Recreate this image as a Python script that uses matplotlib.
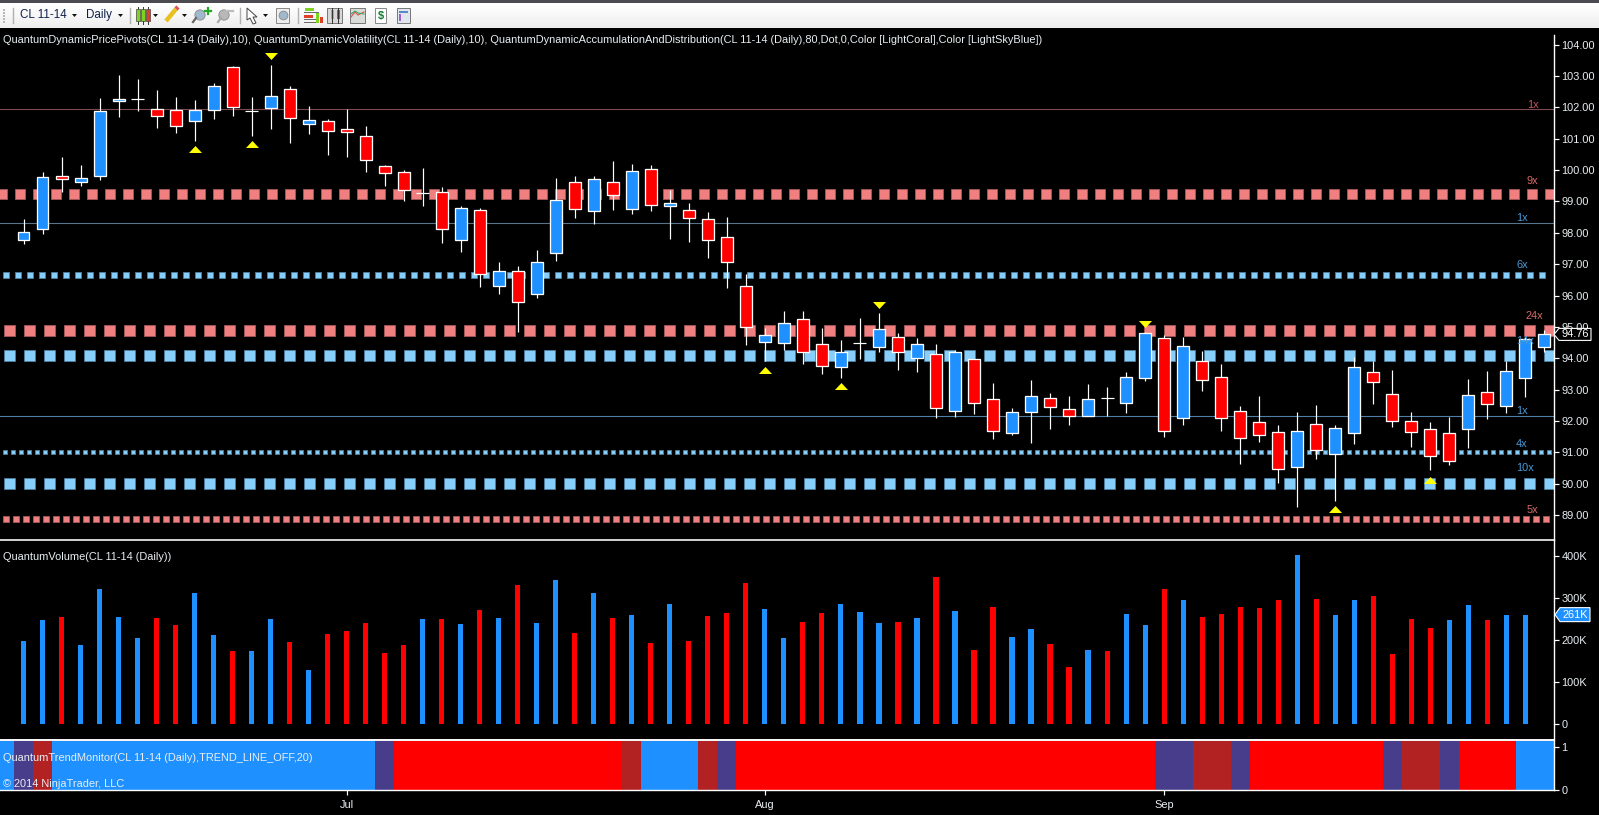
import numpy as np
import matplotlib
matplotlib.use('Agg')
import matplotlib.pyplot as plt
from matplotlib.patches import Polygon, Rectangle

plt.rcParams['font.family'] = ['Liberation Sans', 'DejaVu Sans']

# b = blue candle, r = red candle, d = doji
candle_kind = list('bbrbbbdrrbbrdbrbrrrrrdrbrbrbbrbrbrbrrrrbbrrbdbrbrbrrbbrrbdbbrbrrrrrbrbbrrrrrbrbbb')
candle_high = [98.44,99.94,100.42,100.16,102.30,103.03,102.91,102.56,102.33,102.24,102.77,103.32,102.33,103.35,102.68,102.05,101.62,101.95,101.41,100.16,
               100.00,100.07,99.46,98.86,98.79,97.07,96.94,97.45,99.75,99.81,99.81,100.29,100.20,100.16,99.37,98.95,98.66,98.51,96.69,94.97,
               95.51,95.51,94.97,94.58,95.28,95.44,94.81,94.65,94.45,94.26,93.98,93.21,92.41,93.31,92.89,92.80,93.18,93.08,93.56,94.85,
               94.73,94.68,94.23,93.82,92.48,92.80,91.87,92.29,92.51,91.87,94.04,93.91,93.62,92.29,91.97,92.13,93.34,93.59,93.91,94.68,94.90]
body_top = [98.02,99.77,99.80,99.74,101.88,102.27,102.26,101.94,101.91,101.91,102.67,103.28,101.89,102.35,102.58,101.59,101.56,101.30,101.08,100.12,
            99.93,99.27,99.29,98.78,98.72,96.78,96.78,97.07,99.04,99.61,99.71,99.61,99.96,100.03,98.94,98.72,98.43,97.86,96.29,94.73,
            95.11,95.24,94.44,94.19,94.49,94.92,94.67,94.44,94.13,94.19,93.97,92.69,92.27,92.79,92.72,92.37,92.69,92.73,93.39,94.79,
            94.64,94.38,93.90,93.39,92.31,91.96,91.64,91.67,91.89,91.76,93.71,93.55,92.85,91.99,91.73,91.60,92.82,92.91,93.58,94.60,94.76]
body_bottom = [97.78,98.13,99.70,99.63,99.82,102.19,102.23,101.71,101.42,101.55,101.93,102.02,101.87,101.99,101.67,101.48,101.23,101.20,100.33,99.92,
               99.38,99.25,98.13,97.78,96.68,96.30,95.80,96.06,97.34,98.77,98.68,99.22,98.77,98.90,98.87,98.48,97.78,97.08,95.01,94.53,
               94.50,94.21,93.76,93.73,94.47,94.37,94.21,94.02,92.42,92.33,92.58,91.69,91.63,92.30,92.46,92.17,92.17,92.71,92.58,93.38,
               91.69,92.10,93.30,92.10,91.47,91.56,90.48,90.54,91.08,90.96,91.63,93.25,92.01,91.66,90.89,90.73,91.75,92.55,92.49,93.38,94.37]
candle_low = [97.64,97.96,99.30,99.49,99.69,101.69,101.89,101.34,101.18,100.93,101.63,101.73,101.09,101.31,100.87,101.15,100.48,100.42,99.94,99.49,
              99.02,98.86,97.68,97.39,96.27,96.05,94.84,95.92,97.11,98.47,98.29,98.73,98.60,98.70,97.80,97.71,97.20,96.25,94.42,93.91,
              94.26,93.82,93.50,93.37,93.98,94.20,93.63,93.56,92.09,92.13,92.22,91.42,91.55,91.30,91.74,91.87,92.17,92.16,92.25,93.27,
              91.49,91.87,92.96,91.68,90.63,91.33,90.02,89.26,90.79,89.45,91.26,92.54,91.81,91.17,90.44,90.60,91.14,92.06,92.25,92.76,94.20]

# volume in thousands, one bar fewer than the candles
volume_k = [198,248,255,188,322,255,205,253,236,313,212,174,174,250,196,129,215,222,241,169,
            188,250,250,239,272,253,332,241,344,217,313,253,260,193,286,198,258,265,336,274,
            205,243,265,286,267,241,243,253,351,270,177,279,208,227,191,136,177,174,262,236,
            322,296,255,262,279,277,296,403,298,260,296,305,167,250,229,248,284,248,260,261]
volume_kind = list('bbrbbbbrrbbrbbrbrrrrrbrbrbrbbrbrbrbrrrrbbrrbbbrbrbrrbbrrbrbbrbrrrrrbrbbrrrrbbrbb')

# p = purple, f = firebrick, b = blue, r = red; first entry is the part before bar 0
trend_state = list('bpf' + 'b' * 17 + 'p' + 'r' * 12 + 'f' + 'bbb' + 'fp' + 'r' * 22 + 'pp' + 'ff' + 'p' +
                   'r' * 7 + 'p' + 'ff' + 'p' + 'rrr' + 'bb')

marker_up_bar = [9, 12, 39, 43, 69, 74]
marker_up_price = [100.66, 100.82, 93.64, 93.10, 89.18, 90.13]
marker_down_bar = [13, 45, 59]
marker_down_price = [103.63, 95.71, 95.09]

price_ticks = [89, 90, 91, 92, 93, 94, 95, 96, 97, 98, 99, 100, 101, 102, 103, 104]
volume_ticks = [0, 100, 200, 300, 400]
month_bars = [17, 39, 60]
month_labels = ['Jul', 'Aug', 'Sep']

line_levels = [101.94, 98.30, 92.15]
line_colors = ['#7d4a50', '#56748c', '#4f7ea6']
line_labels = ['1x', '1x', '1x']
line_label_col = ['#c8555f', '#4a9ad8', '#4a9ad8']

dot_levels = [99.23, 96.65, 94.89, 94.09, 91.00, 90.01, 88.86]
dot_colors = ['lightcoral', 'lightskyblue', 'lightcoral', 'lightskyblue', 'lightskyblue', 'lightskyblue', 'lightcoral']
dot_labels = ['9x', '6x', '24x', '14x', '4x', '10x', '5x']
dot_size_px = [10, 6.6, 11, 11, 4.8, 11, 5.2]
dot_pitch_px = [18, 12, 20, 20, 8, 20, 10]
dot_start_px = [2, 6.2, 8.6, 8.6, 5.4, 8.6, 6]
dot_text_x = [1532, 1522, 1534, 1525, 1522, 1525, 1532]
dot_text_y = [180.5, 265, 316, 340.7, 444, 468, 510]
line_text_x = [1533, 1522, 1522]
line_text_y = [105, 218, 411]

last_price = 94.76
last_volume = 261

W, H = 1599, 815
BLUE, RED = '#1e90ff', '#ff0000'
TXT = '#e8eef2'
PX = 72.0 / 100  # one pixel in points


def add_axes_px(left, top, right, bottom):
    return fig.add_axes([left / W, 1 - bottom / H, (right - left) / W, (bottom - top) / H])


def bar_of(px):
    return (px - 23.5) / 19.01


fig = plt.figure(figsize=(W / 100, H / 100), dpi=100, facecolor='black')
x_left, x_right = bar_of(0), bar_of(1553.5)

# ---- price panel
ax = add_axes_px(0, 28, 1553.5, 539.5)
ax.set_facecolor('black')
ax.set_xlim(x_left, x_right)
ax.set_ylim(88.22, 104.53)

for lev, col in zip(line_levels, line_colors):
    ax.axhline(lev, color=col, lw=1.1 * PX, zorder=1)
for lev, col, size, pitch, start in zip(dot_levels, dot_colors, dot_size_px, dot_pitch_px, dot_start_px):
    xs = bar_of(np.arange(start, 1552, pitch))
    edge = '#a85a5a' if col == 'lightcoral' else '#4f7f9f'
    ax.scatter(xs, [lev] * len(xs), s=(size * PX) ** 2, marker='s', c=col, edgecolors=edge,
               linewidths=0.8 * PX, zorder=2)

for i, kind in enumerate(candle_kind):
    ax.vlines(i, candle_low[i], candle_high[i], color='white', lw=1.2 * PX, zorder=3)
    if kind == 'd':
        ax.hlines(body_top[i], i - 0.34, i + 0.34, color='white', lw=1.2 * PX, zorder=3)
    else:
        ax.bar(i, body_top[i] - body_bottom[i], bottom=body_bottom[i], width=0.63,
               color=BLUE if kind == 'b' else RED, edgecolor='white', lw=1.3 * PX, zorder=4)

up_tri = [(-6.5, -3.5), (6.5, -3.5), (0, 3.5)]
down_tri = [(-6.5, 3.5), (6.5, 3.5), (0, -3.5)]
ax.scatter(marker_up_bar, marker_up_price, marker=up_tri, s=(13 * PX) ** 2, c='#ffff00', linewidths=0, zorder=5)
ax.scatter(marker_down_bar, marker_down_price, marker=down_tri, s=(13 * PX) ** 2, c='#ffff00', linewidths=0, zorder=5)

ax.yaxis.tick_right()
ax.set_yticks(price_ticks)
ax.set_yticklabels(['%.2f' % p for p in price_ticks])
ax.set_xticks([])

# ---- volume panel
vax = add_axes_px(0, 540, 1553.5, 740)
vax.set_facecolor('black')
vax.set_xlim(x_left, x_right)
vax.set_ylim(-38, 439)
vax.bar(range(len(volume_k)), volume_k, width=0.27,
        color=[BLUE if k == 'b' else RED for k in volume_kind], zorder=3)
vax.yaxis.tick_right()
vax.set_yticks(volume_ticks)
vax.set_yticklabels(['0' if v == 0 else '%dK' % v for v in volume_ticks])
vax.set_xticks([])

# ---- trend panel
tax = add_axes_px(0, 741, 1553.5, 789.5)
tax.set_facecolor('black')
tax.set_xlim(x_left, x_right)
tax.set_ylim(0, 1.14)
trend_colors = {'p': '#483d8b', 'f': '#b22222', 'b': BLUE, 'r': RED}
tax.bar(np.arange(len(trend_state)) - 1, [1.14] * len(trend_state), width=1.0,
        color=[trend_colors[s] for s in trend_state], linewidth=0)
tax.yaxis.tick_right()
tax.set_yticks([0, 1])
tax.set_xticks(month_bars)
tax.set_xticklabels(month_labels)

for a in (ax, vax, tax):
    for side in ('top', 'left'):
        a.spines[side].set_visible(False)
    for side in ('right', 'bottom'):
        a.spines[side].set_color('white')
        a.spines[side].set_linewidth(1.4 * PX)
    a.tick_params(axis='both', colors='white', labelcolor=TXT, labelsize=7.9, length=5 * PX,
                  width=1.2 * PX, pad=2)
tax.tick_params(axis='x', pad=4)
ax.spines['bottom'].set_visible(False)
vax.spines['bottom'].set_linewidth(1.6 * PX)
ax.spines['right'].set_bounds(88.22, 104.3)

# ---- overlay in pixel coords: captions, toolbar, price flags
ov = fig.add_axes([0, 0, 1, 1], facecolor='none')
ov.set_xlim(0, W)
ov.set_ylim(H, 0)
ov.axis('off')

ov.axhline(539.5, color='white', lw=1.6 * PX, xmax=1553.5 / W)
ov.axhline(740, color='white', lw=1.6 * PX, xmax=1553.5 / W)

caption = ('QuantumDynamicPricePivots(CL 11-14 (Daily),10), QuantumDynamicVolatility(CL 11-14 (Daily),10), '
           'QuantumDynamicAccumulationAndDistribution(CL 11-14 (Daily),80,Dot,0,Color [LightCoral],Color [LightSkyBlue])')
ov.text(3, 40, caption, color=TXT, fontsize=7.9, va='center')
ov.text(3, 557, 'QuantumVolume(CL 11-14 (Daily))', color=TXT, fontsize=7.9, va='center')
ov.text(3, 758, 'QuantumTrendMonitor(CL 11-14 (Daily),TREND_LINE_OFF,20)', color=TXT, fontsize=7.9, va='center')
ov.text(3, 784, '© 2014 NinjaTrader, LLC', color=TXT, fontsize=7.9, va='center')

for txt, x, y, col in zip(line_labels, line_text_x, line_text_y, line_label_col):
    ov.text(x, y, txt, color=col, fontsize=7.9, ha='center', va='center')
for txt, x, y, col in zip(dot_labels, dot_text_x, dot_text_y, dot_colors):
    ov.text(x, y, txt, color='#d86a6a' if col == 'lightcoral' else '#4a9ad8', fontsize=7.9, ha='center', va='center')

# flags on the right axis
py = ax.transData.transform((0, last_price))[1]
py = H - py
ov.add_patch(Polygon([(1554, py), (1559, py - 6), (1591, py - 6), (1591, py + 6), (1559, py + 6)],
                     closed=True, fc='black', ec='white', lw=1.1 * PX, zorder=6))
ov.text(1575, py, '%.2f' % last_price, color='white', fontsize=7.9, ha='center', va='center', zorder=7)
vy = H - vax.transData.transform((0, last_volume))[1]
ov.add_patch(Polygon([(1555, vy), (1560, vy - 7), (1590, vy - 7), (1590, vy + 7), (1560, vy + 7)],
                     closed=True, fc=BLUE, ec='white', lw=1.1 * PX, zorder=6))
ov.text(1575, vy, '%dK' % last_volume, color='white', fontsize=7.9, ha='center', va='center', zorder=7)

# toolbar
grad = np.linspace(1.0, 0.93, 25).reshape(-1, 1)
ov.imshow(grad, cmap='gray', vmin=0, vmax=1, extent=(0, W, 28, 3), aspect='auto', zorder=1)
ov.set_xlim(0, W)
ov.set_ylim(H, 0)
ov.add_patch(Rectangle((0, 0), W, 3, fc='#4a4a50', ec='none', zorder=2))


def tb_rect(x, y, w, h, fc, ec='none', lw=0.7):
    ov.add_patch(Rectangle((x, y), w, h, fc=fc, ec=ec, lw=lw, zorder=3))


def tb_arrow(x, y):
    ov.add_patch(Polygon([(x, y), (x + 5, y), (x + 2.5, y + 3)], closed=True, fc='#111111', ec='none', zorder=3))


for x in (12.5, 130, 240, 298):
    ov.plot([x, x], [8, 23], color='#b0b0b0', lw=1, zorder=3)
for y in (9, 12, 15, 18, 21):
    tb_rect(3, y, 1.5, 1.5, '#b8b8b8')

ov.text(20, 15, 'CL 11-14', color='#10204a', fontsize=8.4, va='center', zorder=3)
ov.text(86, 15, 'Daily', color='#10204a', fontsize=8.4, va='center', zorder=3)
tb_arrow(72, 14)
tb_arrow(118, 14)

# candlestick icon
for x, c in ((136, '#7ed321'), (141, '#7ed321'), (146, '#e0402a')):
    ov.plot([x + 1.5, x + 1.5], [7, 24], color='#333333', lw=0.7, zorder=3)
    tb_rect(x, 9, 3.5, 12, c, '#444444', 0.5)
tb_arrow(153, 14)
# pencil
ov.plot([166, 176], [21, 9], color='#e8c020', lw=3.2, zorder=3, solid_capstyle='butt')
ov.plot([176, 178], [9, 7], color='#e05050', lw=3.2, zorder=3, solid_capstyle='butt')
tb_arrow(182, 14)
# magnifiers
ov.scatter([200, 224], [15, 15], s=55, c=['#9fb8cc', '#b8b8b8'], edgecolors='#888888', linewidths=0.6, zorder=3)
ov.plot([196, 193], [18, 22], color='#666666', lw=1.6, zorder=3)
ov.plot([221, 218], [18, 22], color='#aaaaaa', lw=1.6, zorder=3)
ov.plot([205, 211], [11, 11], color='#22aa22', lw=1.6, zorder=3)
ov.plot([208, 208], [8, 14], color='#22aa22', lw=1.6, zorder=3)
ov.plot([226, 233], [11, 11], color='#bbbbbb', lw=1.6, zorder=3)
# pointer
ov.add_patch(Polygon([(247, 8), (257, 17), (253, 17), (256, 23), (253, 24), (250, 18), (247, 20)],
                     closed=True, fc='white', ec='#444444', lw=0.7, zorder=3))
tb_arrow(263, 14)
tb_rect(276, 8, 13, 15, '#eeeeee', '#888888')
ov.scatter([283], [15], s=40, c='#9fb8cc', edgecolors='#888888', linewidths=0.6, zorder=4)
# indicator, chart, money and sheet icons
tb_rect(305, 8, 9, 3, '#7ed321')
tb_rect(304, 15, 9, 3, '#e0402a')
for y in (12, 19, 22):
    ov.plot([304, 318], [y, y], color='#666666', lw=0.7, zorder=3)
tb_rect(316, 13, 3, 10, '#7ed321')
tb_rect(320, 17, 3, 6, '#e0402a')
tb_rect(327, 8, 15, 15, '#d8d8d8', '#777777')
for x, c in ((331, '#7ed321'), (337, '#e0402a')):
    ov.plot([x + 1, x + 1], [8, 23], color='#333333', lw=0.7, zorder=4)
    tb_rect(x, 10, 2.5, 9, c)
tb_rect(350, 8, 15, 15, '#d8dcd8', '#777777')
ov.plot([351, 355, 358, 364], [17, 12, 15, 12], color='#e05050', lw=0.8, zorder=4)
ov.plot([351, 355, 358, 364], [14, 11, 13, 14], color='#40a860', lw=0.8, zorder=4)
tb_rect(375, 8, 11, 15, 'white', '#888888')
ov.text(380.5, 15.5, '$', color='#0f7a30', fontsize=8, fontweight='bold', ha='center', va='center', zorder=4)
tb_rect(397, 8, 13, 15, '#dfe6ef', '#777777')
tb_rect(399, 11, 9, 2, '#5a88c8')
tb_rect(399, 14, 2, 7, '#a060d0')

fig.savefig('out.png', dpi=100, facecolor='black')
